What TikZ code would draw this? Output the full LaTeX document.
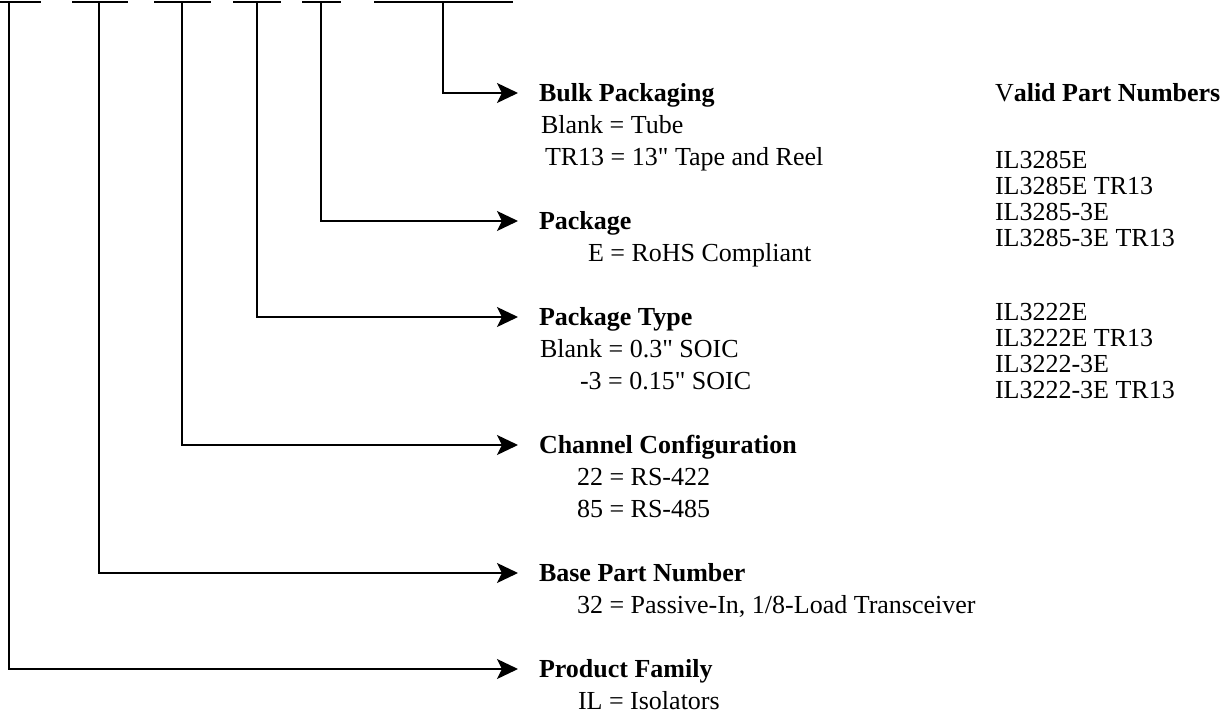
\documentclass[tikz,border=0pt]{standalone}
\usepackage{fontspec}
\newfontfamily\lsf{Liberation Serif}
\usetikzlibrary{arrows.meta}
\begin{document}
\begin{tikzpicture}[x=1pt,y=-1pt,
  ln/.style={line width=1.3pt, black},
  conn/.style={ln, -{Stealth[length=21pt,width=20pt,inset=5pt]}},
  txt/.style={anchor=west, inner sep=0pt, outer sep=0pt, font=\lsf\fontsize{26}{32}\selectfont, text height=17pt, text depth=0pt},
  head/.style={txt, font=\lsf\fontsize{26}{32}\selectfont\bfseries, outer xsep=21pt}]
\useasboundingbox (0,0) rectangle (1232,715);

% top code segments
\draw[ln] (0,2) -- (41,2);
\draw[ln] (72,2) -- (128,2);
\draw[ln] (154,2) -- (211,2);
\draw[ln] (233,2) -- (281,2);
\draw[ln] (302,2) -- (341,2);
\draw[ln] (374,2) -- (513,2);
\coordinate (t1) at (9,2);
\coordinate (t2) at (99,2);
\coordinate (t3) at (182,2);
\coordinate (t4) at (257,2);
\coordinate (t5) at (321,2);
\coordinate (t6) at (443,2);

% headings
\node[head] (h6) at (518,93) {Bulk Packaging};
\node[head] (h5) at (518,221) {Package};
\node[head] (h4) at (518,317) {Package Type};
\node[head] (h3) at (518,445) {Channel Configuration};
\node[head] (h2) at (518,573) {Base Part Number};
\node[head] (h1) at (518,669) {Product Family};

% descriptions
\node[txt] (d6a) at (541,125) {Blank = Tube};
\node[txt] (d6b) at (545,157) {TR13 = 13" Tape and Reel};
\node[txt] (d5a) at (588,253) {E = RoHS Compliant};
\node[txt] (d4a) at (540,349) {Blank = 0.3" SOIC};
\node[txt] (d4b) at (580,381) {-3 = 0.15" SOIC};
\node[txt] (d3a) at (577,477) {22 = RS-422};
\node[txt] (d3b) at (577,509) {85 = RS-485};
\node[txt] (d2a) at (577,605) {32 = Passive-In, 1/8-Load Transceiver};
\node[txt] (d1a) at (578,701) {IL = Isolators};

% connectors
\draw[conn] (t6) |- (h6);
\draw[conn] (t5) |- (h5);
\draw[conn] (t4) |- (h4);
\draw[conn] (t3) |- (h3);
\draw[conn] (t2) |- (h2);
\draw[conn] (t1) |- (h1);

% valid part numbers
\node[txt] (vh) at (995,93) {V\textbf{alid Part Numbers}};
\node[txt] (v1) at (995,160) {IL3285E};
\node[txt] (v2) at (995,186) {IL3285E TR13};
\node[txt] (v3) at (995,212) {IL3285-3E};
\node[txt] (v4) at (995,238) {IL3285-3E TR13};
\node[txt] (v5) at (995,312) {IL3222E};
\node[txt] (v6) at (995,338) {IL3222E TR13};
\node[txt] (v7) at (995,364) {IL3222-3E};
\node[txt] (v8) at (995,390) {IL3222-3E TR13};
\end{tikzpicture}
\end{document}
